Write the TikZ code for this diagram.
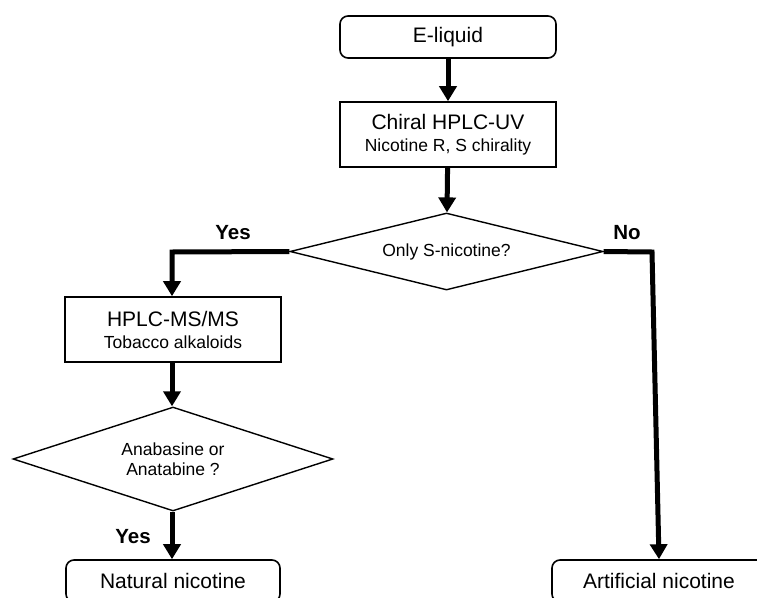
\documentclass[tikz,border=0pt]{standalone}
\usepackage{fontspec}
\setmainfont{Liberation Sans}
\usetikzlibrary{shapes.geometric,arrows.meta}
\begin{document}
\begin{tikzpicture}[x=1pt,y=-1pt,
  box/.style={draw,line width=1.6pt,minimum width=216pt,inner sep=0pt,align=center},
  rbox/.style={box,rounded corners=8pt,minimum height=42pt,font=\fontsize{21}{24}\selectfont},
  sbox/.style={box,minimum height=65pt,font=\fontsize{17.5}{22}\selectfont},
  dia/.style={draw,diamond,line width=1.4pt,inner sep=0pt,align=center,font=\fontsize{17.5}{20}\selectfont},
  flow/.style={line width=5pt,-{Triangle[width=17pt,length=15pt]}},
  lab/.style={font=\bfseries\fontsize{20.5}{23}\selectfont}]
\clip (0,0) rectangle (757,597);
\useasboundingbox (0,0) rectangle (757,597);
\node[rbox] (eliq) at (448,37) {E-liquid};
\node[sbox] (chiral) at (448,134.5) {{\fontsize{21}{24}\selectfont Chiral HPLC-UV}\\Nicotine R, S chirality};
\node[dia,aspect=4,minimum width=313pt,minimum height=77pt] (d1) at (446.5,251.5) {Only S-nicotine?};
\node[sbox] (hplc) at (173,329.5) {{\fontsize{21}{24}\selectfont HPLC-MS/MS}\\Tobacco alkaloids};
\node[dia,aspect=3.08,minimum width=320pt,minimum height=104pt] (d2) at (173,459) {Anabasine or\\Anatabine ?};
\node[rbox,minimum width=214pt] (nat) at (173,581) {Natural nicotine};
\node[rbox,minimum width=214pt] (art) at (659,581) {Artificial nicotine};
\coordinate (cy) at (172,252);
\coordinate (cn) at (652,252);
\draw[flow] (eliq) -- (chiral);
\draw[flow] (chiral) -- (d1);
\draw[flow] (d1.west) -- (cy) -- (hplc.north -| cy);
\draw[flow] (hplc.south -| cy) -- (d2.north -| cy);
\draw[flow] (d2.south -| cy) -- (nat.north -| cy);
\draw[flow] (d1.east) -- (cn) -- (art.north);
\node[lab] (yes1) at (233,233) {Yes};
\node[lab] (no1) at (627,233) {No};
\node[lab] (yes2) at (133,537) {Yes};
\end{tikzpicture}
\end{document}
